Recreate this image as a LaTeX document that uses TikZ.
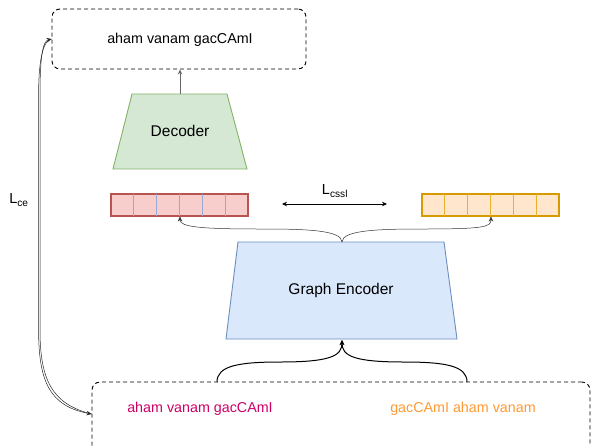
\documentclass[tikz,border=0pt]{standalone}
\usepackage{fontspec}
\setmainfont{Liberation Sans}
\usetikzlibrary{arrows.meta,calc}

\definecolor{decfill}{HTML}{D5E8D4}
\definecolor{decline}{HTML}{82B366}
\definecolor{encfill}{HTML}{DAE8FC}
\definecolor{encline}{HTML}{6C8EBF}
\definecolor{reddiv}{HTML}{9AA8D2}
\definecolor{redfill}{HTML}{F8CECC}
\definecolor{redline}{HTML}{B85450}
\definecolor{orgfill}{HTML}{FFE6CC}
\definecolor{orgline}{HTML}{D79B00}
\definecolor{orgdiv}{HTML}{E8B030}
\definecolor{magtext}{HTML}{CC0066}
\definecolor{orgtext}{HTML}{FF9933}

\tikzset{
  dashbox/.style={draw=black, line width=0.9pt, dash pattern=on 4pt off 3pt,
    rounded corners=8pt, inner sep=0pt},
  txt/.style={font=\fontsize{14.3}{17}\selectfont, inner sep=0pt},
  bigtxt/.style={font=\fontsize{15.5}{18}\selectfont, inner sep=0pt},
  losstxt/.style={font=\fontsize{14.5}{17}\selectfont, inner sep=0pt},
  vecbox/.style={minimum width=137pt, minimum height=22pt, inner sep=0pt, line width=1.1pt},
  tip/.style={-{Stealth[length=5pt,width=4.5pt]}},
  thinlink/.style={tip, draw=black!80, line width=0.5pt},
  thicklink/.style={tip, draw=black, line width=1pt},
  celink/.style={tip, draw=black!85, line width=0.5pt},
}

\begin{document}
\begin{tikzpicture}[x=1pt,y=-1pt]
\useasboundingbox (0,0) rectangle (591,445);
\clip (0,0) rectangle (591,445);

% generated sentence
\node[dashbox, minimum width=254pt, minimum height=60pt] (out) at (179,39) {};
\node[txt] (outtxt) at (180,40) {aham vanam gacCAmI};

% decoder
\draw[fill=decfill, draw=decline, line width=0.9pt]
  (132,94) -- (227,94) -- (247,169) -- (113,169) -- cycle;
\node[bigtxt] (dec) at (180,131) {Decoder};
\coordinate (dectop) at (180,94);
\draw[tip, draw=black!60, line width=0.7pt] (dectop) -- (out.south -| dectop);

% latent vectors
\node[vecbox, fill=redfill, draw=redline] (zr) at (179.5,205) {};
\node[vecbox, fill=orgfill, draw=orgline] (zo) at (490.5,205) {};
\foreach \i in {1,...,5} {
  \draw[reddiv, line width=0.6pt]
    ($(zr.north west)!\i/6!(zr.north east)+(0,0.6)$) -- ($(zr.south west)!\i/6!(zr.south east)-(0,0.6)$);
  \draw[orgdiv, line width=0.6pt]
    ($(zo.north west)!\i/6!(zo.north east)+(0,0.6)$) -- ($(zo.south west)!\i/6!(zo.south east)-(0,0.6)$);
}

% contrastive loss
\coordinate (cssla) at (282,204);
\coordinate (csslb) at (387,204);
\draw[{Stealth[length=5pt,width=4.5pt]}-{Stealth[length=5pt,width=4.5pt]}, line width=0.6pt]
  (cssla) -- (csslb);
\node[losstxt] (lcssl) at (335,191) {L\textsubscript{cssl}};

% graph encoder
\draw[fill=encfill, draw=encline, line width=0.9pt]
  (238,242) -- (444,242) -- (457,339) -- (226,339) -- cycle;
\node[bigtxt] (enc) at (341,290) {Graph Encoder};
\coordinate (enctop) at (342,242);
\coordinate (encbot) at (342,340);

\draw[thinlink] (enctop) .. controls (342,230) and (305,229) .. (262,229)
  .. controls (200,229) and (180,227) .. (zr.south -| 180,0);
\draw[thinlink] (enctop) .. controls (342,230) and (380,229) .. (422,229)
  .. controls (484,229) and (491,227) .. (zo.south -| 491,0);

% input sentences
\node[dashbox, minimum width=498pt, minimum height=74pt] (in) at (341,419) {};
\node[txt, text=magtext] (src1) at (200,409) {aham vanam gacCAmI};
\node[txt, text=orgtext] (src2) at (463,409) {gacCAmI aham vanam};
\coordinate (inA) at (217,382);
\coordinate (inB) at (467,382);
\draw[thicklink] (inA) .. controls (217,366) and (238,362) .. (280,362)
  .. controls (330,362) and (342,356) .. (encbot);
\draw[thicklink] (inB) .. controls (467,366) and (446,362) .. (404,362)
  .. controls (354,362) and (342,356) .. (encbot);

% reconstruction loss
\coordinate (ceTop) at (out.west |- 0,39);
\coordinate (ceBot) at (in.west |- 0,414);
\draw[celink] (ceBot) .. controls (52,404) and (40,380) .. (40,330)
  -- (40,95) .. controls (40,55) and (43,41) .. (ceTop);
\draw[celink] (ceTop) .. controls (44,40) and (38.6,56) .. (38.6,95)
  -- (38.6,330) .. controls (38.6,382) and (50,406) .. (ceBot);
\node[losstxt] (lce) at (19,200) {L\textsubscript{ce}};
\end{tikzpicture}
\end{document}
